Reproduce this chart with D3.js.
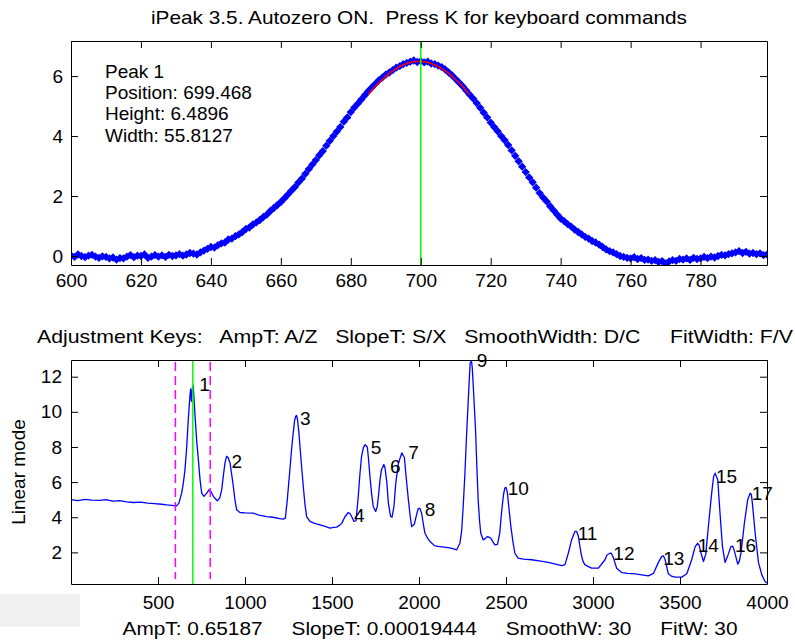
<!DOCTYPE html>
<html>
<head>
<meta charset="utf-8">
<script src="https://cdn.jsdelivr.net/npm/d3@7"></script>
<style>
  body { margin: 0; background: #fff; }
  svg { display: block; }
  text { font-family: "Liberation Sans", Arial, sans-serif; fill: #000; }
</style>
</head>
<body>
<div id="chart"></div>
<script>
// ---- Top panel: autozeroed data around peak 1 (one point per x unit from 600) ----
const topStart = 600;
const topValues = [
  0.02, -0.03, 0.05, 0.0, -0.04, 0.01, 0.04, -0.02, -0.06, -0.01,
  -0.03, -0.08, -0.05, -0.12, -0.07, -0.08, -0.02, 0.03, -0.04, 0.01,
  0.0, 0.05, -0.06, -0.02, 0.03, -0.02, 0.02, -0.03, 0.04, 0.0,
  0.02, 0.06, 0.01, 0.05, 0.1, 0.08, 0.05, 0.12, 0.18, 0.24,
  0.3, 0.28, 0.36, 0.42, 0.45, 0.55, 0.58, 0.66, 0.72, 0.8,
  0.9, 0.95, 1.05, 1.12, 1.2, 1.3, 1.38, 1.5, 1.6, 1.7,
  1.8, 1.92, 2.05, 2.18, 2.3, 2.45, 2.58, 2.74, 2.9, 3.05,
  3.2, 3.36, 3.5, 3.68, 3.84, 4.0, 4.15, 4.3, 4.48, 4.62,
  4.8, 4.95, 5.08, 5.22, 5.36, 5.5, 5.62, 5.74, 5.86, 5.95,
  6.05, 6.12, 6.2, 6.28, 6.33, 6.4, 6.44, 6.48, 6.52, 6.47,
  6.5, 6.46, 6.48, 6.42, 6.4, 6.35, 6.3, 6.22, 6.12, 6.02,
  5.9, 5.78, 5.66, 5.52, 5.38, 5.25, 5.1, 4.94, 4.78, 4.62,
  4.45, 4.3, 4.16, 4.0, 3.86, 3.7, 3.52, 3.34, 3.16, 2.98,
  2.8, 2.62, 2.46, 2.28, 2.1, 1.95, 1.82, 1.66, 1.52, 1.38,
  1.25, 1.16, 1.06, 0.98, 0.88, 0.8, 0.72, 0.64, 0.58, 0.5,
  0.45, 0.38, 0.3, 0.22, 0.16, 0.12, 0.06, 0.0, -0.03, -0.06,
  -0.08, -0.04, -0.1, -0.07, -0.13, -0.12, -0.16, -0.14, -0.2, -0.17,
  -0.25, -0.18, -0.14, -0.16, -0.1, -0.12, -0.08, -0.13, -0.06, -0.1,
  -0.08, -0.03, -0.07, -0.02, -0.05, 0.0, 0.04, 0.02, 0.06, 0.09,
  0.12, 0.16, 0.1, 0.14, 0.08, 0.1, 0.06, 0.09, 0.03, 0.05
];

// Gaussian fit drawn over the fit window (one point per x unit from 685)
const fitStart = 685;
const fitValues = [
  5.38, 5.52, 5.65, 5.77, 5.88, 5.99, 6.09, 6.17, 6.25, 6.32,
  6.37, 6.42, 6.45, 6.48, 6.49, 6.49, 6.48, 6.45, 6.42, 6.37,
  6.32, 6.25, 6.17, 6.09, 5.99, 5.88, 5.77, 5.65, 5.52, 5.38
];

const peakInfo = ['Peak 1', 'Position: 699.468', 'Height: 6.4896', 'Width: 55.8127'];
const topXTicks = [600, 620, 640, 660, 680, 700, 720, 740, 760, 780];
const topYTicks = [0, 2, 4, 6];

// ---- Bottom panel: full signal ----
const sigX = [
  0, 40, 80, 120, 167, 200, 240, 280, 320, 358, 400, 440, 480, 520, 550, 580, 607, 620,
  636, 645, 655, 665, 674, 684, 688, 692, 695, 699, 703, 708, 713, 722, 732, 741, 751,
  764, 780, 793, 805, 818, 830, 841, 855, 866, 876, 885, 894, 903, 914, 924, 933, 942,
  952, 971, 1000, 1048, 1080, 1124, 1160, 1200, 1220, 1232, 1243, 1250, 1258, 1268,
  1277, 1285, 1291, 1296, 1302, 1309, 1316, 1326, 1335, 1345, 1354, 1373, 1400, 1431,
  1460, 1488, 1510, 1527, 1545, 1556, 1575, 1594, 1604, 1613, 1626, 1638, 1651, 1660,
  1670, 1680, 1690, 1703, 1710, 1718, 1728, 1737, 1751, 1760, 1768, 1776, 1784, 1798,
  1805, 1815, 1824, 1837, 1845, 1856, 1866, 1882, 1901, 1916, 1926, 1939, 1950, 1958,
  1973, 1985, 1996, 2005, 2015, 2025, 2034, 2050, 2063, 2091, 2120, 2168, 2200, 2216,
  2235, 2245, 2254, 2264, 2273, 2287, 2294, 2302, 2306, 2311, 2318, 2325, 2332, 2340,
  2348, 2355, 2369, 2382, 2394, 2405, 2413, 2425, 2436, 2451, 2464, 2471, 2478, 2486,
  2493, 2500, 2508, 2516, 2528, 2540, 2551, 2570, 2600, 2647, 2700, 2743, 2790, 2820,
  2839, 2858, 2877, 2896, 2906, 2916, 2931, 2942, 2954, 2992, 3031, 3069, 3080, 3098,
  3105, 3117, 3136, 3165, 3200, 3242, 3280, 3318, 3347, 3376, 3395, 3405, 3414, 3433,
  3450, 3472, 3510, 3539, 3567, 3587, 3602, 3610, 3621, 3635, 3648, 3663, 3682, 3693,
  3702, 3710, 3717, 3730, 3744, 3759, 3774, 3793, 3803, 3812, 3832, 3841, 3851, 3870,
  3889, 3903, 3910, 3916, 3932, 3951, 3970, 3989, 4000
];
const sigY = [
  5.0, 4.95, 5.02, 4.97, 4.96, 5.0, 4.92, 4.94, 4.88, 4.84, 4.86, 4.8, 4.78, 4.74, 4.7, 4.68, 4.65, 4.8,
  5.37, 5.9, 6.7, 8.0, 9.55, 10.97, 11.3, 10.6, 10.9, 11.54, 11.4, 10.6, 9.74, 8.4, 7.28, 6.2, 5.37,
  5.19, 5.37, 5.56, 5.45, 5.19, 5.05, 4.94, 5.1, 5.56, 6.4, 7.09, 7.47, 7.4, 7.09, 6.4, 5.75, 5.0,
  4.42, 4.27, 4.25, 4.23, 4.12, 4.04, 4.0, 3.92, 3.89, 3.95, 4.99, 5.8, 6.7, 7.9,
  8.79, 9.5, 9.74, 9.8, 9.55, 8.9, 8.03, 6.8, 5.75, 4.7, 4.04, 3.76, 3.65, 3.57,
  3.48, 3.38, 3.42, 3.44, 3.55, 3.65, 4.04, 4.27, 4.2, 4.04, 3.76, 3.8, 5.18, 6.4,
  7.47, 7.95, 8.13, 8.0, 7.3, 6.32, 5.3, 4.61, 4.33, 4.6, 5.3, 6.13, 6.7, 7.0,
  6.8, 6.0, 4.8, 4.04, 4.0, 4.6, 5.9, 7.09, 7.66, 7.4, 6.3, 4.99, 4.0, 3.47,
  3.6, 4.1, 4.51, 4.5, 4.23, 3.6, 3.09, 2.8, 2.62, 2.37, 2.33, 2.27, 2.2, 2.14,
  2.52, 3.2, 4.61, 6.5, 8.6, 11.45, 12.78, 12.88, 12.5, 11.64, 10.3, 8.98, 7.0, 4.99,
  3.8, 3.09, 2.71, 2.8, 2.9, 2.85, 2.8, 2.6, 2.43, 2.45, 3.09, 3.9, 4.61, 5.3,
  5.66, 5.7, 5.4, 4.6, 3.47, 2.6, 1.95, 1.67, 1.62, 1.58, 1.5, 1.43, 1.32, 1.24,
  1.3, 1.95, 2.71, 3.19, 3.2, 2.9, 1.95, 1.5, 1.29, 1.1, 1.1, 1.58, 1.85, 1.95,
  1.95, 1.7, 1.1, 0.85, 0.8, 0.78, 0.72, 0.66, 0.8, 1.43, 1.77, 1.8, 1.6, 0.78,
  0.65, 0.59, 0.59, 0.78, 1.58, 2.33, 2.52, 2.4, 1.95, 1.48, 1.9, 3.47, 5.37, 6.3,
  6.51, 6.3, 6.13, 4.23, 2.33, 1.43, 1.8, 2.33, 2.35, 2.1, 1.33, 1.5, 2.0, 3.66,
  5.0, 5.37, 5.3, 4.8, 3.09, 1.43, 0.72, 0.34, 0.24
];

// Peak number labels (left edge x, centre y)
const peakNums = ['1', '2', '3', '4', '5', '6', '7', '8', '9', '10', '11', '12', '13', '14', '15', '16', '17'];
const labelX = [737, 923, 1316, 1626, 1722, 1834, 1938, 2033, 2332, 2510, 2912, 3117, 3404, 3602, 3707, 3816, 3912];
const labelY = [11.6, 7.2, 9.65, 4.14, 7.99, 6.89, 7.71, 4.46, 12.93, 5.66, 3.11, 1.95, 1.67, 2.43, 6.32, 2.43, 5.37];

const botXTicks = [500, 1000, 1500, 2000, 2500, 3000, 3500, 4000];
const botYTicks = [2, 4, 6, 8, 10, 12];
const windowEdges = [600, 800];
const peakCentre = 700;

const titleText = 'iPeak 3.5. Autozero ON.  Press K for keyboard commands';
const keysText = 'Adjustment Keys:   AmpT: A/Z   SlopeT: S/X   SmoothWidth: D/C     FitWidth: F/V';
const statusText = 'AmpT: 0.65187     SlopeT: 0.00019444     SmoothW: 30     FitW: 30';

// ---- Layout ----
const W = 795, H = 642;
const FONT = 19;
const topBox = { left: 71, right: 767, top: 41, bottom: 265 };
const botBox = { left: 71, right: 767, top: 360, bottom: 584 };

const svg = d3.select('#chart').append('svg')
  .attr('width', W)
  .attr('height', H);

svg.append('rect').attr('width', W).attr('height', H).attr('fill', '#fff');

// grey control patch at lower left
svg.append('rect')
  .attr('x', 0).attr('y', 594).attr('width', 80).attr('height', 33)
  .attr('fill', '#f0f0f0');

// Draws the boxed MATLAB-style axes with inward ticks on all sides
function drawFrame(g, x, y, box, xTicks, yTicks, xPad, yPad) {
  const w = box.right - box.left, h = box.bottom - box.top;
  const tick = 7;
  const fmt = d3.format('d');

  g.append('g')
    .attr('transform', `translate(0,${h})`)
    .call(d3.axisBottom(x).tickValues(xTicks).tickFormat(fmt)
      .tickSizeInner(-tick).tickSizeOuter(0).tickPadding(xPad));
  g.append('g')
    .call(d3.axisTop(x).tickValues(xTicks).tickSizeInner(-tick).tickSizeOuter(0).tickFormat(''));
  g.append('g')
    .call(d3.axisLeft(y).tickValues(yTicks).tickFormat(fmt)
      .tickSizeInner(-tick).tickSizeOuter(0).tickPadding(yPad));
  g.append('g')
    .attr('transform', `translate(${w},0)`)
    .call(d3.axisRight(y).tickValues(yTicks).tickSizeInner(-tick).tickSizeOuter(0).tickFormat(''));

  g.selectAll('.domain, .tick line').attr('stroke', '#000').attr('stroke-width', 1);
  g.selectAll('.tick text')
    .attr('fill', '#000')
    .style('font-size', FONT + 'px')
    .style('font-family', '"Liberation Sans", Arial, sans-serif');
}

// ---- Top panel ----
const topG = svg.append('g').attr('transform', `translate(${topBox.left},${topBox.top})`);
const xTop = d3.scaleLinear().domain([600, 799]).range([0, topBox.right - topBox.left]);
const yTop = d3.scaleLinear().domain([-0.3, 7.17]).range([topBox.bottom - topBox.top, 0]);

svg.append('clipPath').attr('id', 'clipTop')
  .append('rect').attr('width', topBox.right - topBox.left).attr('height', topBox.bottom - topBox.top);

const topPlot = topG.append('g').attr('clip-path', 'url(#clipTop)');
const diamond = d3.symbol(d3.symbolDiamond2).size(44);

topPlot.selectAll('path.pt')
  .data(topValues)
  .enter().append('path')
  .attr('class', 'pt')
  .attr('d', diamond)
  .attr('transform', (d, i) => `translate(${xTop(topStart + i)},${yTop(d)})`)
  .attr('fill', '#0000ff');

topPlot.append('path')
  .datum(fitValues)
  .attr('fill', 'none')
  .attr('stroke', '#ff0000')
  .attr('stroke-width', 1.5)
  .attr('d', d3.line().x((d, i) => xTop(fitStart + i)).y(d => yTop(d)));

topPlot.append('line')
  .attr('x1', xTop(peakCentre)).attr('x2', xTop(peakCentre))
  .attr('y1', 0).attr('y2', topBox.bottom - topBox.top)
  .attr('stroke', '#00ff00').attr('stroke-width', 1.5);

drawFrame(topG, xTop, yTop, topBox, topXTicks, topYTicks, 9, 8);

const info = topG.append('g');
peakInfo.forEach((t, i) => {
  info.append('text')
    .attr('x', 34)
    .attr('y', 37 + i * 21.2)
    .style('font-size', FONT + 'px')
    .text(t);
});

// ---- Bottom panel ----
const botG = svg.append('g').attr('transform', `translate(${botBox.left},${botBox.top})`);
const xBot = d3.scaleLinear().domain([0, 4000]).range([0, botBox.right - botBox.left]);
const yBot = d3.scaleLinear().domain([0.2, 12.95]).range([botBox.bottom - botBox.top, 0]);

svg.append('clipPath').attr('id', 'clipBot')
  .append('rect').attr('width', botBox.right - botBox.left).attr('height', botBox.bottom - botBox.top);

const botPlot = botG.append('g').attr('clip-path', 'url(#clipBot)');

botPlot.append('path')
  .datum(sigX.map((x, i) => [x, sigY[i]]))
  .attr('fill', 'none')
  .attr('stroke', '#0000ff')
  .attr('stroke-width', 1.3)
  .attr('stroke-linejoin', 'round')
  .attr('d', d3.line().x(d => xBot(d[0])).y(d => yBot(d[1])));

botPlot.selectAll('line.win')
  .data(windowEdges)
  .enter().append('line')
  .attr('class', 'win')
  .attr('x1', d => xBot(d)).attr('x2', d => xBot(d))
  .attr('y1', 2).attr('y2', botBox.bottom - botBox.top - 5)
  .attr('stroke', '#ff00ff')
  .attr('stroke-width', 1.5)
  .attr('stroke-dasharray', '9,5');

botPlot.append('line')
  .attr('x1', xBot(peakCentre)).attr('x2', xBot(peakCentre))
  .attr('y1', 0).attr('y2', botBox.bottom - botBox.top)
  .attr('stroke', '#00ff00').attr('stroke-width', 1.5);

botG.selectAll('text.peak')
  .data(peakNums)
  .enter().append('text')
  .attr('class', 'peak')
  .attr('x', (d, i) => xBot(labelX[i]))
  .attr('y', (d, i) => yBot(labelY[i]))
  .attr('dy', '0.36em')
  .style('font-size', FONT + 'px')
  .text(d => d);

drawFrame(botG, xBot, yBot, botBox, botXTicks, botYTicks, 12, 9);

// Y label of the lower panel
svg.append('text')
  .attr('transform', `translate(25,${(botBox.top + botBox.bottom) / 2}) rotate(-90)`)
  .attr('text-anchor', 'middle')
  .style('font-size', FONT + 'px')
  .text('Linear mode');

// ---- Figure texts ----
svg.append('text')
  .attr('x', 419).attr('y', 24)
  .attr('text-anchor', 'middle')
  .attr('textLength', 536).attr('lengthAdjust', 'spacingAndGlyphs')
  .style('font-size', FONT + 'px')
  .style('white-space', 'pre')
  .text(titleText);

svg.append('text')
  .attr('x', 415).attr('y', 343)
  .attr('text-anchor', 'middle')
  .attr('textLength', 756).attr('lengthAdjust', 'spacingAndGlyphs')
  .style('font-size', FONT + 'px')
  .style('white-space', 'pre')
  .text(keysText);

svg.append('text')
  .attr('x', 430).attr('y', 635)
  .attr('text-anchor', 'middle')
  .attr('textLength', 615).attr('lengthAdjust', 'spacingAndGlyphs')
  .style('font-size', FONT + 'px')
  .style('white-space', 'pre')
  .text(statusText);
</script>
</body>
</html>
